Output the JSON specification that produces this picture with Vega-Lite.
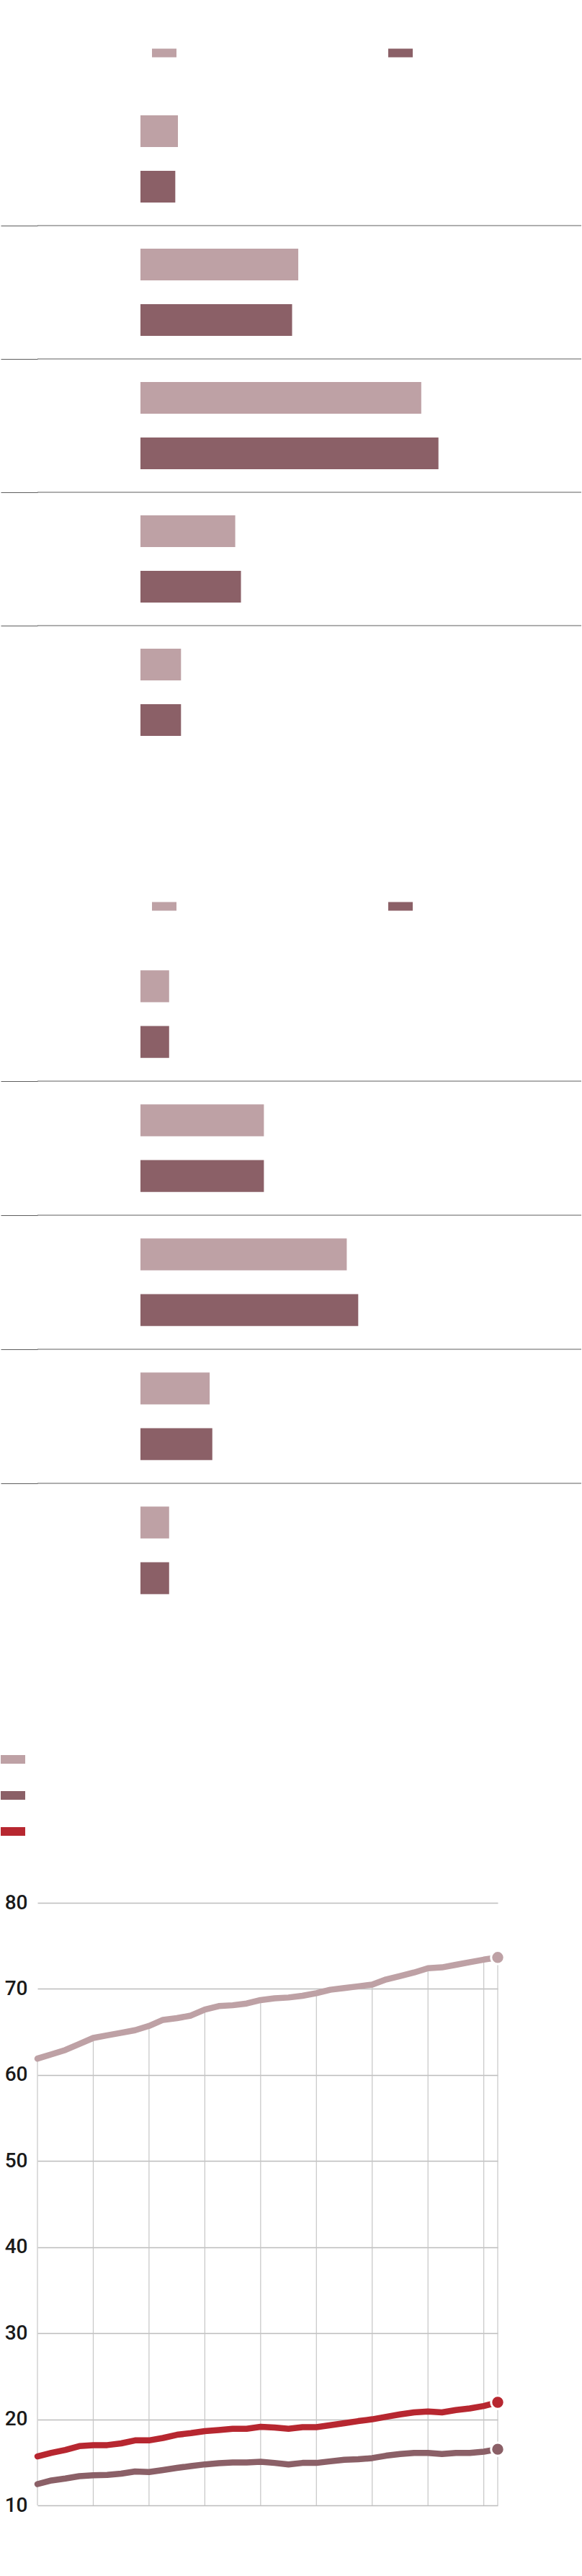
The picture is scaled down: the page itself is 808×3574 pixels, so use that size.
{
  "$schema": "https://vega.github.io/schema/vega-lite/v6.json",
  "background": "white",
  "padding": {"top": 56, "left": 0, "right": 0, "bottom": 0},
  "spacing": 180,
  "bounds": "full",
  "config": {"view": {"stroke": null}},
  "resolve": {"scale": {"color": "independent", "x": "independent", "y": "independent", "yOffset": "independent"}, "legend": {"color": "independent"}},
  "datasets": {
    "bars1": [
      {"grupo": "g1", "serie": "a", "valor": 8.5},
      {"grupo": "g1", "serie": "b", "valor": 7.9},
      {"grupo": "g2", "serie": "a", "valor": 35.8},
      {"grupo": "g2", "serie": "b", "valor": 34.4},
      {"grupo": "g3", "serie": "a", "valor": 63.7},
      {"grupo": "g3", "serie": "b", "valor": 67.6},
      {"grupo": "g4", "serie": "a", "valor": 21.5},
      {"grupo": "g4", "serie": "b", "valor": 22.8},
      {"grupo": "g5", "serie": "a", "valor": 9.2},
      {"grupo": "g5", "serie": "b", "valor": 9.2}
    ],
    "bars2": [
      {"grupo": "g1", "serie": "a", "valor": 6.5},
      {"grupo": "g1", "serie": "b", "valor": 6.5},
      {"grupo": "g2", "serie": "a", "valor": 28.0},
      {"grupo": "g2", "serie": "b", "valor": 28.0},
      {"grupo": "g3", "serie": "a", "valor": 46.8},
      {"grupo": "g3", "serie": "b", "valor": 49.4},
      {"grupo": "g4", "serie": "a", "valor": 15.7},
      {"grupo": "g4", "serie": "b", "valor": 16.3},
      {"grupo": "g5", "serie": "a", "valor": 6.5},
      {"grupo": "g5", "serie": "b", "valor": 6.5}
    ],
    "lines": [
      {"year": 1990, "s": "s1", "v": 61.9}, {"year": 1991, "s": "s1", "v": 62.4}, {"year": 1992, "s": "s1", "v": 62.9}, {"year": 1993, "s": "s1", "v": 63.6},
      {"year": 1994, "s": "s1", "v": 64.3}, {"year": 1995, "s": "s1", "v": 64.6}, {"year": 1996, "s": "s1", "v": 64.9}, {"year": 1997, "s": "s1", "v": 65.2},
      {"year": 1998, "s": "s1", "v": 65.7}, {"year": 1999, "s": "s1", "v": 66.4}, {"year": 2000, "s": "s1", "v": 66.6}, {"year": 2001, "s": "s1", "v": 66.9},
      {"year": 2002, "s": "s1", "v": 67.6}, {"year": 2003, "s": "s1", "v": 68.0}, {"year": 2004, "s": "s1", "v": 68.1}, {"year": 2005, "s": "s1", "v": 68.3},
      {"year": 2006, "s": "s1", "v": 68.7}, {"year": 2007, "s": "s1", "v": 68.9}, {"year": 2008, "s": "s1", "v": 69.0}, {"year": 2009, "s": "s1", "v": 69.2},
      {"year": 2010, "s": "s1", "v": 69.5}, {"year": 2011, "s": "s1", "v": 69.9}, {"year": 2012, "s": "s1", "v": 70.1}, {"year": 2013, "s": "s1", "v": 70.3},
      {"year": 2014, "s": "s1", "v": 70.5}, {"year": 2015, "s": "s1", "v": 71.1}, {"year": 2016, "s": "s1", "v": 71.5}, {"year": 2017, "s": "s1", "v": 71.9},
      {"year": 2018, "s": "s1", "v": 72.4}, {"year": 2019, "s": "s1", "v": 72.5}, {"year": 2020, "s": "s1", "v": 72.8}, {"year": 2021, "s": "s1", "v": 73.1},
      {"year": 2022, "s": "s1", "v": 73.4}, {"year": 2023, "s": "s1", "v": 73.65},
      {"year": 1990, "s": "s2", "v": 12.47}, {"year": 1991, "s": "s2", "v": 12.89}, {"year": 1992, "s": "s2", "v": 13.12}, {"year": 1993, "s": "s2", "v": 13.39},
      {"year": 1994, "s": "s2", "v": 13.5}, {"year": 1995, "s": "s2", "v": 13.53}, {"year": 1996, "s": "s2", "v": 13.68}, {"year": 1997, "s": "s2", "v": 13.93},
      {"year": 1998, "s": "s2", "v": 13.87}, {"year": 1999, "s": "s2", "v": 14.1}, {"year": 2000, "s": "s2", "v": 14.35}, {"year": 2001, "s": "s2", "v": 14.57},
      {"year": 2002, "s": "s2", "v": 14.76}, {"year": 2003, "s": "s2", "v": 14.9}, {"year": 2004, "s": "s2", "v": 14.98}, {"year": 2005, "s": "s2", "v": 14.98},
      {"year": 2006, "s": "s2", "v": 15.07}, {"year": 2007, "s": "s2", "v": 14.93}, {"year": 2008, "s": "s2", "v": 14.76}, {"year": 2009, "s": "s2", "v": 14.93},
      {"year": 2010, "s": "s2", "v": 14.93}, {"year": 2011, "s": "s2", "v": 15.12}, {"year": 2012, "s": "s2", "v": 15.3}, {"year": 2013, "s": "s2", "v": 15.35},
      {"year": 2014, "s": "s2", "v": 15.49}, {"year": 2015, "s": "s2", "v": 15.77}, {"year": 2016, "s": "s2", "v": 15.96}, {"year": 2017, "s": "s2", "v": 16.1},
      {"year": 2018, "s": "s2", "v": 16.1}, {"year": 2019, "s": "s2", "v": 15.96}, {"year": 2020, "s": "s2", "v": 16.1}, {"year": 2021, "s": "s2", "v": 16.1},
      {"year": 2022, "s": "s2", "v": 16.24}, {"year": 2023, "s": "s2", "v": 16.52},
      {"year": 1990, "s": "s3", "v": 15.69}, {"year": 1991, "s": "s3", "v": 16.1}, {"year": 1992, "s": "s3", "v": 16.44}, {"year": 1993, "s": "s3", "v": 16.88},
      {"year": 1994, "s": "s3", "v": 16.99}, {"year": 1995, "s": "s3", "v": 17.0}, {"year": 1996, "s": "s3", "v": 17.2}, {"year": 1997, "s": "s3", "v": 17.55},
      {"year": 1998, "s": "s3", "v": 17.55}, {"year": 1999, "s": "s3", "v": 17.83}, {"year": 2000, "s": "s3", "v": 18.2}, {"year": 2001, "s": "s3", "v": 18.39},
      {"year": 2002, "s": "s3", "v": 18.62}, {"year": 2003, "s": "s3", "v": 18.75}, {"year": 2004, "s": "s3", "v": 18.9}, {"year": 2005, "s": "s3", "v": 18.9},
      {"year": 2006, "s": "s3", "v": 19.12}, {"year": 2007, "s": "s3", "v": 19.04}, {"year": 2008, "s": "s3", "v": 18.9}, {"year": 2009, "s": "s3", "v": 19.09},
      {"year": 2010, "s": "s3", "v": 19.09}, {"year": 2011, "s": "s3", "v": 19.31}, {"year": 2012, "s": "s3", "v": 19.54}, {"year": 2013, "s": "s3", "v": 19.79},
      {"year": 2014, "s": "s3", "v": 20.0}, {"year": 2015, "s": "s3", "v": 20.29}, {"year": 2016, "s": "s3", "v": 20.57}, {"year": 2017, "s": "s3", "v": 20.8},
      {"year": 2018, "s": "s3", "v": 20.9}, {"year": 2019, "s": "s3", "v": 20.8}, {"year": 2020, "s": "s3", "v": 21.07}, {"year": 2021, "s": "s3", "v": 21.26},
      {"year": 2022, "s": "s3", "v": 21.55}, {"year": 2023, "s": "s3", "v": 21.97}
    ]
  },
  "vconcat": [
    {
      "width": 755,
      "height": 925,
      "data": {"name": "bars1"},
      "encoding": {
        "y": {"field": "grupo", "type": "nominal", "scale": {"paddingInner": 0, "paddingOuter": 0},
          "axis": {"title": null, "labels": false, "domain": false, "ticks": true, "tickSize": 51, "tickColor": "#5e5e5e", "tickWidth": 1, "grid": false, "bandPosition": 0, "values": ["g2", "g3", "g4", "g5"]}}
      },
      "layer": [
        {
          "mark": {"type": "bar"},
          "encoding": {
            "yOffset": {"field": "serie", "type": "nominal", "scale": {"paddingInner": 0.4286, "paddingOuter": 0.4156}},
            "x": {"field": "valor", "type": "quantitative", "scale": {"domain": [0, 100], "range": [143, 755], "nice": false}, "axis": null},
            "color": {"field": "serie", "type": "nominal", "scale": {"domain": ["a", "b"], "range": ["#bea1a5", "#8b6067"]},
              "legend": {"orient": "none", "legendX": 159, "legendY": -72, "direction": "horizontal", "title": null, "symbolType": "M-1,-0.353L1,-0.353L1,0.353L-1,0.353Z", "symbolSize": 1156, "symbolStrokeWidth": 0, "symbolOpacity": 1, "labelExpr": "''", "labelOffset": 0, "columnPadding": 294}}
          }
        },
        {
          "transform": [{"filter": {"field": "serie", "equal": "a"}}, {"filter": {"field": "grupo", "oneOf": ["g2", "g3", "g4", "g5"]}}],
          "mark": {"type": "rule", "color": "#5e5e5e", "strokeWidth": 1},
          "encoding": {"y": {"field": "grupo", "type": "nominal", "bandPosition": 0}}
        }
      ]
    },
    {
      "width": 755,
      "height": 930,
      "data": {"name": "bars2"},
      "encoding": {
        "y": {"field": "grupo", "type": "nominal", "scale": {"paddingInner": 0, "paddingOuter": 0},
          "axis": {"title": null, "labels": false, "domain": false, "ticks": true, "tickSize": 51, "tickColor": "#5e5e5e", "tickWidth": 1, "grid": false, "bandPosition": 0, "values": ["g2", "g3", "g4", "g5"]}}
      },
      "layer": [
        {
          "mark": {"type": "bar"},
          "encoding": {
            "yOffset": {"field": "serie", "type": "nominal", "scale": {"paddingInner": 0.4286, "paddingOuter": 0.4156}},
            "x": {"field": "valor", "type": "quantitative", "scale": {"domain": [0, 100], "range": [143, 755], "nice": false}, "axis": null},
            "color": {"field": "serie", "type": "nominal", "scale": {"domain": ["a", "b"], "range": ["#bea1a5", "#8b6067"]},
              "legend": {"orient": "none", "legendX": 152, "legendY": -81, "padding": 7, "direction": "horizontal", "title": null, "symbolType": "M-1,-0.353L1,-0.353L1,0.353L-1,0.353Z", "symbolSize": 1156, "symbolStrokeWidth": 0, "symbolOpacity": 1, "labelExpr": "''", "labelOffset": 0, "columnPadding": 294}}
          }
        },
        {
          "transform": [{"filter": {"field": "serie", "equal": "a"}}, {"filter": {"field": "grupo", "oneOf": ["g2", "g3", "g4", "g5"]}}],
          "mark": {"type": "rule", "color": "#5e5e5e", "strokeWidth": 1},
          "encoding": {"y": {"field": "grupo", "type": "nominal", "bandPosition": 0}}
        }
      ]
    },
    {
      "width": 639,
      "height": 836,
      "data": {"name": "lines"},
      "encoding": {
        "x": {"field": "year", "type": "quantitative", "scale": {"domain": [1990, 2023], "nice": false, "zero": false}, "axis": null},
        "y": {"field": "v", "type": "quantitative", "scale": {"domain": [10, 80], "nice": false, "zero": false},
          "axis": {"title": null, "values": [10, 20, 30, 40, 50, 60, 70, 80], "grid": true, "gridColor": "#bdbdbd", "gridWidth": 1.5, "ticks": false, "domain": false, "labelFont": "Roboto", "labelFontSize": 28, "labelFontWeight": 500, "labelColor": "#1a1a1a", "labelPadding": 14}}
      },
      "layer": [
        {
          "transform": [{"filter": {"field": "s", "equal": "s1"}}, {"filter": {"field": "year", "oneOf": [1990, 1994, 1998, 2002, 2006, 2010, 2014, 2018, 2022, 2023]}}],
          "mark": {"type": "rule", "color": "#c6c6c6", "strokeWidth": 1.2},
          "encoding": {"y2": {"datum": 10}}
        },
        {
          "mark": {"type": "line", "strokeWidth": 8.5, "strokeCap": "round", "strokeJoin": "round"},
          "encoding": {
            "color": {"field": "s", "type": "nominal", "scale": {"domain": ["s1", "s2", "s3"], "range": ["#bea1a5", "#8b6067", "#b72730"]},
              "legend": {"orient": "none", "legendX": -51, "legendY": -216, "direction": "vertical", "title": null, "symbolType": "M-1,-0.353L1,-0.353L1,0.353L-1,0.353Z", "symbolSize": 1156, "symbolStrokeWidth": 0, "symbolOpacity": 1, "labelExpr": "''", "labelOffset": 0, "rowPadding": 26,
                "encode": {"symbols": {"update": {"fill": {"scale": "color", "field": "value"}, "stroke": {"value": "transparent"}}}}}}
          }
        },
        {
          "transform": [{"filter": {"field": "year", "equal": 2023}}],
          "mark": {"type": "circle", "size": 340, "opacity": 1, "stroke": "white", "strokeWidth": 3},
          "encoding": {
            "color": {"field": "s", "type": "nominal"}
          }
        }
      ]
    }
  ]
}
